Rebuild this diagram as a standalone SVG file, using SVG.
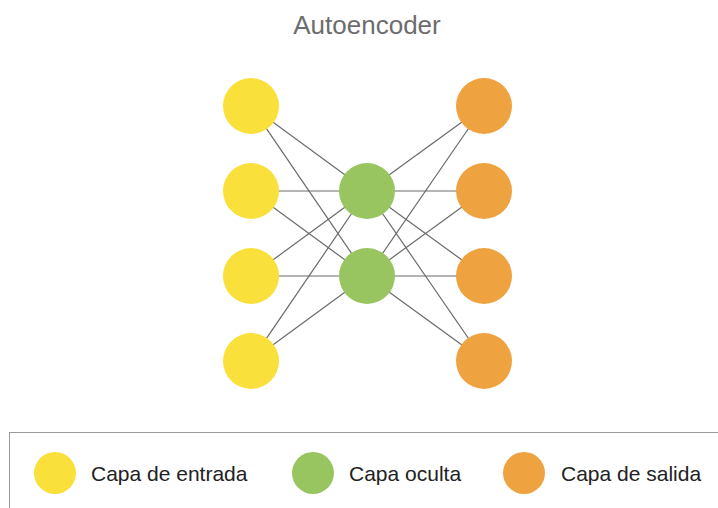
<svg xmlns="http://www.w3.org/2000/svg" width="718" height="508" viewBox="0 0 718 508">
<style>
.t{font-family:"Liberation Sans",Arial,sans-serif}
.in{fill:#f9e03a}.hid{fill:#98c560}.out{fill:#efa240}
.c line{stroke:#6a6a6a;stroke-width:1.2}
.lg{font-size:21px;fill:#222}
</style>
<rect width="718" height="508" fill="#fff"/>
<text class="t" x="367" y="34" font-size="26" fill="#6d6d6d" text-anchor="middle">Autoencoder</text>
<g id="connectors" class="c">
<line x1="251" y1="106" x2="367" y2="191"/><line x1="251" y1="106" x2="367" y2="276"/>
<line x1="251" y1="191" x2="367" y2="191"/><line x1="251" y1="191" x2="367" y2="276"/>
<line x1="251" y1="276" x2="367" y2="191"/><line x1="251" y1="276" x2="367" y2="276"/>
<line x1="251" y1="361" x2="367" y2="191"/><line x1="251" y1="361" x2="367" y2="276"/>
<line x1="367" y1="191" x2="484" y2="106"/><line x1="367" y1="191" x2="484" y2="191"/>
<line x1="367" y1="191" x2="484" y2="276"/><line x1="367" y1="191" x2="484" y2="361"/>
<line x1="367" y1="276" x2="484" y2="106"/><line x1="367" y1="276" x2="484" y2="191"/>
<line x1="367" y1="276" x2="484" y2="276"/><line x1="367" y1="276" x2="484" y2="361"/>
</g>
<g id="in1"><circle class="in" cx="251" cy="106" r="28"/></g>
<g id="in2"><circle class="in" cx="251" cy="191" r="28"/></g>
<g id="in3"><circle class="in" cx="251" cy="276" r="28"/></g>
<g id="in4"><circle class="in" cx="251" cy="361" r="28"/></g>
<g id="hid1"><circle class="hid" cx="367" cy="191" r="28"/></g>
<g id="hid2"><circle class="hid" cx="367" cy="276" r="28"/></g>
<g id="out1"><circle class="out" cx="484" cy="106" r="28"/></g>
<g id="out2"><circle class="out" cx="484" cy="191" r="28"/></g>
<g id="out3"><circle class="out" cx="484" cy="276" r="28"/></g>
<g id="out4"><circle class="out" cx="484" cy="361" r="28"/></g>
<g id="legend">
<rect x="9.5" y="432.5" width="730" height="100" fill="none" stroke="#9a9a9a" stroke-width="1"/>
<circle class="in" cx="55" cy="473" r="21"/>
<text class="t lg" x="91" y="481">Capa de entrada</text>
<circle class="hid" cx="313" cy="473" r="21"/>
<text class="t lg" x="349" y="481">Capa oculta</text>
<circle class="out" cx="524" cy="473" r="21"/>
<text class="t lg" x="561" y="481">Capa de salida</text>
</g>
</svg>
